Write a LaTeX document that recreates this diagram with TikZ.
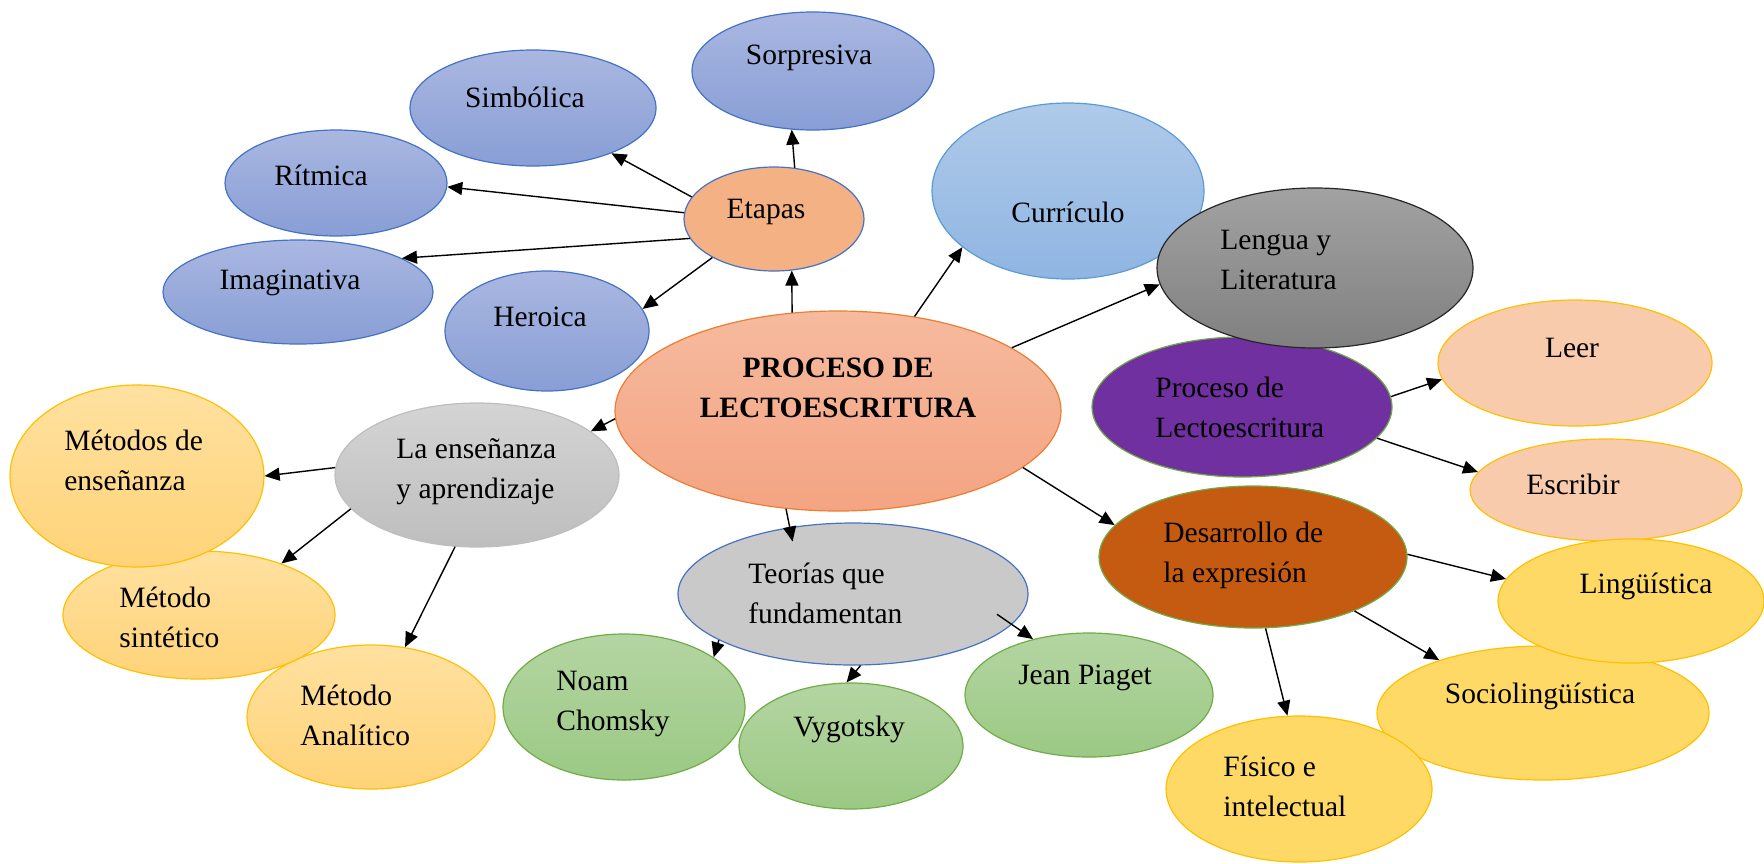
\documentclass[tikz,border=0pt]{standalone}
\usepackage{fontspec}
\setmainfont{Liberation Serif}
\usetikzlibrary{shapes.geometric,arrows.meta,calc}
\definecolor{blueT}{RGB}{170,183,225}
\definecolor{blueB}{RGB}{136,158,213}
\definecolor{blueD}{RGB}{68,114,196}
\definecolor{etapF}{RGB}{244,177,131}
\definecolor{mainT}{RGB}{246,186,158}
\definecolor{mainB}{RGB}{244,164,130}
\definecolor{mainD}{RGB}{237,125,49}
\definecolor{currT}{RGB}{175,202,233}
\definecolor{currB}{RGB}{143,181,226}
\definecolor{currD}{RGB}{91,155,213}
\definecolor{lengT}{RGB}{162,162,162}
\definecolor{lengB}{RGB}{128,128,128}
\definecolor{purpF}{RGB}{112,48,160}
\definecolor{greenD}{RGB}{112,173,71}
\definecolor{peachF}{RGB}{248,203,173}
\definecolor{goldD}{RGB}{255,192,0}
\definecolor{desaF}{RGB}{197,90,17}
\definecolor{yelF}{RGB}{255,217,102}
\definecolor{ltyT}{RGB}{255,225,160}
\definecolor{ltyB}{RGB}{255,211,120}
\definecolor{grayT}{RGB}{212,212,212}
\definecolor{grayB}{RGB}{190,190,190}
\definecolor{teorF}{RGB}{201,201,201}
\definecolor{grnT}{RGB}{180,213,162}
\definecolor{grnB}{RGB}{155,201,132}
\begin{document}
\begin{tikzpicture}[x=0.5pt,y=-0.5pt,
  ell/.style={ellipse, inner sep=0pt, line width=0.6pt},
  bluen/.style={ell, top color=blueT, bottom color=blueB, draw=blueD},
  etapn/.style={ell, fill=etapF, draw=blueD},
  mainn/.style={ell, top color=mainT, bottom color=mainB, draw=mainD},
  currn/.style={ell, top color=currT, bottom color=currB, draw=currD},
  lengn/.style={ell, top color=lengT, bottom color=lengB, draw=black!85},
  purpn/.style={ell, fill=purpF, draw=greenD},
  peachn/.style={ell, fill=peachF, draw=goldD},
  desan/.style={ell, fill=desaF, draw=greenD},
  yeln/.style={ell, fill=yelF, draw=goldD},
  ltyn/.style={ell, top color=ltyT, bottom color=ltyB, draw=goldD},
  grayn/.style={ell, top color=grayT, bottom color=grayB, draw=grayB},
  teorn/.style={ell, fill=teorF, draw=blueD},
  grnn/.style={ell, top color=grnT, bottom color=grnB, draw=greenD},
  txt/.style={font=\fontsize{14.75}{20}\selectfont, inner sep=0pt, align=center},
  ltxt/.style={txt, align=left, anchor=west},
  arr/.style={-{Triangle[length=7.5pt,width=6.5pt]}, line width=0.7pt}
]
\useasboundingbox (0,0) rectangle (1764,863);
% ellipses
\node[bluen, minimum width=121pt, minimum height=59pt] (sorp) at (813,71) {};
\node[bluen, minimum width=123pt, minimum height=58pt] (simb) at (533,108) {};
\node[bluen, minimum width=111pt, minimum height=53pt] (ritm) at (336,183) {};
\node[bluen, minimum width=135pt, minimum height=52pt] (imag) at (298,292) {};
\node[bluen, minimum width=102pt, minimum height=60pt] (hero) at (547,331) {};
\node[etapn, minimum width=90pt, minimum height=52pt] (etap) at (774,219) {};
\node[mainn, minimum width=223pt, minimum height=100pt] (main) at (838,411) {};
\node[currn, minimum width=136pt, minimum height=88pt] (curr) at (1068,191) {};
\node[purpn, minimum width=150pt, minimum height=70pt] (purp) at (1242,407) {};
\node[lengn, minimum width=158pt, minimum height=80pt] (leng) at (1315,268) {};
\node[peachn, minimum width=137pt, minimum height=63pt] (leer) at (1575,363) {};
\node[peachn, minimum width=136pt, minimum height=51pt] (escr) at (1606,490) {};
\node[desan, minimum width=154pt, minimum height=71pt] (desa) at (1253,557) {};
\node[yeln, minimum width=166pt, minimum height=67pt] (soci) at (1543,713) {};
\node[yeln, minimum width=133pt, minimum height=62pt] (ling) at (1631,601) {};
\node[yeln, minimum width=133pt, minimum height=73pt] (fisi) at (1299,789) {};
\node[grnn, minimum width=124pt, minimum height=62pt] (piag) at (1089,695) {};
\node[grnn, minimum width=112pt, minimum height=63pt] (vygo) at (851,746) {};
\node[grnn, minimum width=121pt, minimum height=73pt] (chom) at (624,707) {};
\node[teorn, minimum width=175pt, minimum height=71pt] (teor) at (853,594) {};
\node[grayn, minimum width=142pt, minimum height=72pt] (ense) at (477,475) {};
\node[ltyn, minimum width=124pt, minimum height=72pt] (anal) at (371,717) {};
\node[ltyn, minimum width=136pt, minimum height=64pt] (sint) at (199,615) {};
\node[ltyn, minimum width=127pt, minimum height=91pt] (meto) at (137,476) {};
% texts
\node[txt] (sorp-t) at (809,58) {Sorpresiva};
\node[txt] (simb-t) at (525,97) {Simbólica};
\node[txt] (ritm-t) at (321,175) {Rítmica};
\node[txt] (imag-t) at (290,283) {Imaginativa};
\node[txt] (hero-t) at (540,317) {Heroica};
\node[txt] (etap-t) at (766,212) {Etapas};
\node[txt, font=\fontsize{14.75}{20}\selectfont\bfseries] (main-t) at (838,388) {PROCESO DE\\LECTOESCRITURA};
\node[txt] (curr-t) at (1068,212) {Currículo};
\node[ltxt] (leng-t) at (1220,260) {Lengua y\\Literatura};
\node[ltxt] (purp-t) at (1155,407) {Proceso de\\Lectoescritura};
\node[txt] (leer-t) at (1572,348) {Leer};
\node[txt] (escr-t) at (1573,484) {Escribir};
\node[ltxt] (desa-t) at (1163,555) {Desarrollo de\\la expresión};
\node[txt] (ling-t) at (1646,586) {Lingüística};
\node[txt] (soci-t) at (1540,696) {Sociolingüística};
\node[ltxt] (fisi-t) at (1223,786) {Físico e\\intelectual};
\node[ltxt] (teor-t) at (748,593) {Teorías que\\fundamentan};
\node[txt] (piag-t) at (1085,678) {Jean Piaget};
\node[txt] (vygo-t) at (849,729) {Vygotsky};
\node[ltxt] (chom-t) at (556,704) {Noam\\Chomsky};
\node[ltxt] (ense-t) at (396,472) {La enseñanza\\y aprendizaje};
\node[ltxt] (meto-t) at (64,460) {Métodos de\\enseñanza};
\node[ltxt] (sint-t) at (119,617) {Método\\sintético};
\node[ltxt] (anal-t) at (300,715) {Método\\Analítico};
% connectors
\draw[arr] (main.115.6) -- (etap.289);
\draw[arr] (etap.68) -- (sorp.250.2);
\draw[arr] (etap.165) -- (simb.330.8);
\draw[arr] (etap.176) -- (ritm.358);
\draw[arr] (etap.193.2) -- (imag.18.9);
\draw[arr] (etap.212.2) -- (hero.13.2);
\draw[arr] (main.51.8) -- (curr.208.75);
\draw[arr] (main.20.7) -- (leng.186.1);
\draw[arr] (purp.4.25) -- (leer.187.8);
\draw[arr] (purp.347.9) -- (escr.172.8);
\draw[arr] (main.343) -- (desa.167.1);
\draw[arr] (desa.1.9) -- (ling.170.5);
\draw[arr] (desa.332.2) -- (soci.153);
\draw[arr] (desa.280.4) -- (fisi.99.2);
\draw[arr] (main.242.3) -- ($(teor.center)!0.81!(teor.139.5)$);
\draw[arr] (teor.199.1) -- (chom.29.6);
\draw[arr] (teor.276.4) -- (vygo.94.2);
\draw[arr] ($(teor.center)!0.867!(teor.352.9)$) -- (piag.135.5);
\draw[arr] (main.182.8) -- (ense.21.5);
\draw[arr] (ense.177.2) -- (meto.0);
\draw[arr] (ense.195) -- (sint.32.7);
\draw[arr] (ense.253.5) -- (anal.64.1);
\end{tikzpicture}
\end{document}
